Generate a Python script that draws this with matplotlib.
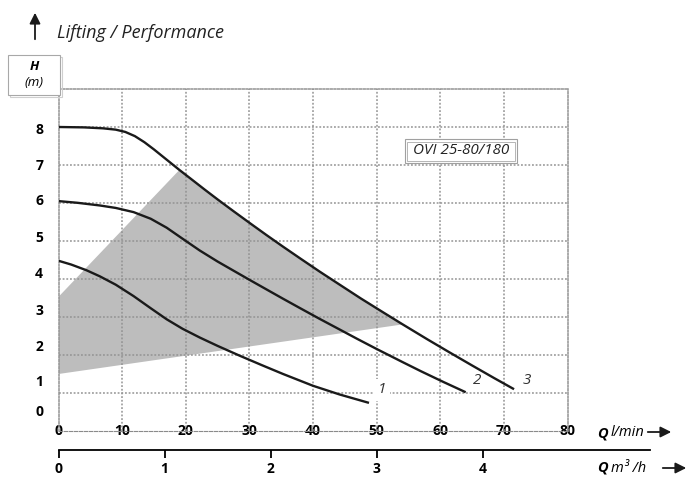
import matplotlib
matplotlib.use("Agg")
import matplotlib.pyplot as plt
from matplotlib.patches import Rectangle
import numpy as np

plt.rcParams['font.family'] = ['Open Sans', 'DejaVu Sans']

# pump curves, Q in l/min, H in grid units (one unit per grid row)
q1 = [0, 2, 4.4, 6.5, 9, 11.8, 14.5, 17, 19.5, 22.2, 25, 28.5, 32, 35.3, 40, 44.2, 48.8]
h1 = [4.48, 4.38, 4.23, 4.07, 3.85, 3.55, 3.23, 2.94, 2.69, 2.46, 2.24, 1.98, 1.73, 1.50, 1.19,
      0.96, 0.74]
q2 = [0, 3, 6.5, 9, 11.8, 14.5, 17, 19.5, 22.2, 25, 27.5, 30, 32.7, 35.3, 38, 41, 44.2, 47,
      50.1, 54, 57, 60.5, 64]
h2 = [6.05, 6.005, 5.935, 5.87, 5.76, 5.585, 5.35, 5.06, 4.75, 4.46, 4.22, 3.98, 3.725, 3.48,
      3.23, 2.955, 2.67, 2.42, 2.15, 1.82, 1.57, 1.29, 1.02]
q3 = [0, 4, 7, 9, 10.5, 12, 13.5, 15, 17, 19, 20.7, 23, 25, 27.5, 30, 32.7, 35.3, 38, 41, 44.2,
      47.5, 51, 54.1, 58, 61.5, 65, 68.5, 71.6]
h3 = [8.0, 7.99, 7.965, 7.93, 7.87, 7.76, 7.60, 7.41, 7.14, 6.87, 6.65, 6.35, 6.095, 5.785, 5.48,
      5.155, 4.85, 4.54, 4.20, 3.85, 3.49, 3.125, 2.805, 2.41, 2.065, 1.725, 1.39, 1.10]
curve_names = ["1", "2", "3"]

# shaded working area (left edge, apex on curve 3, right end on curve 3)
area_left = [1.5, 3.53]
area_apex_q = 19
area_end_q = 54.1

# axes ticks
q_ticks = [0, 10, 20, 30, 40, 50, 60, 70, 80]
m3h_ticks = [0, 1, 2, 3, 4]
h_labels = ["0", "1", "2", "3", "4", "5", "6", "7", "8"]
h_label_pos = [0.55, 1.32, 2.26, 3.21, 4.18, 5.11, 6.08, 7.0, 7.97]

W, Hh = 690, 478
def fx(px): return px / W
def fy(py): return 1 - py / Hh

fig = plt.figure(figsize=(6.9, 4.78), dpi=100)
ax = fig.add_axes([fx(58.5), fy(431), fx(567.5) - fx(58.5), fy(89) - fy(431)])
ax.set_xlim(0, 80)
ax.set_ylim(0, 9)

grid_col = "#939393"
dots = (0, (1.2, 1.2))

# shaded area
q3a = np.array(q3); h3a = np.array(h3)
sel = (q3a >= area_apex_q) & (q3a <= area_end_q)
poly_q = [0, 0] + list(q3a[sel]) + [0]
poly_h = area_left + list(h3a[sel]) + [area_left[0]]
ax.fill(poly_q, poly_h, color="#bdbdbd", lw=0, zorder=1)

# curves
for q, h in [(q1, h1), (q2, h2), (q3, h3)]:
    ax.plot(q, h, color="#1a1a1a", lw=1.7, solid_capstyle="butt",
            solid_joinstyle="round", zorder=5)

# curve labels
for name, (tx, ty) in zip(curve_names, [(50.8, 1.08), (65.8, 1.34), (73.6, 1.34)]):
    ax.text(tx, ty, name, fontsize=11, style="italic", color="#333333",
            ha="center", va="center", zorder=4,
            bbox=dict(boxstyle="square,pad=0.25", fc="white", ec="none"))

# grid
ax.set_xticks(q_ticks)
ax.set_xticklabels([str(v) for v in q_ticks])
ax.set_yticks(h_label_pos)
ax.set_yticklabels(h_labels)
ax.grid(False)
for v in q_ticks[1:-1]:
    ax.axvline(v, color=grid_col, lw=1.1, ls=dots, zorder=2)
for v in range(1, 9):
    ax.axhline(v, color=grid_col, lw=1.1, ls=dots, zorder=2)
for s in ["top", "right", "left"]:
    ax.spines[s].set_color(grid_col)
    ax.spines[s].set_linestyle(dots)
    ax.spines[s].set_linewidth(1.1)
ax.spines["bottom"].set_color("#8a8a8a")
ax.spines["bottom"].set_linestyle((0, (3, 1.5)))
ax.spines["bottom"].set_linewidth(0.8)

ax.tick_params(axis="both", which="both", length=0)
ax.tick_params(axis="y", pad=11, labelsize=10)
ax.tick_params(axis="x", pad=0, labelsize=10)
for t in ax.get_yticklabels():
    t.set_fontweight("bold")
for t in ax.get_xticklabels():
    t.set_fontweight("bold")
    t.set_va("center")
    t.set_bbox(dict(boxstyle="square,pad=0.1", fc="white", ec="none"))

# second flow axis in m3/h
q_end = (650 - 58.5) * 80 / 509
ax2 = fig.add_axes([fx(58.5), fy(450), fx(650) - fx(58.5), 0.0005])
ax2.set_xlim(0, q_end * 0.06)
ax2.set_ylim(0, 1)
ax2.patch.set_visible(False)
for s in ["top", "right", "left"]:
    ax2.spines[s].set_visible(False)
ax2.spines["bottom"].set_linewidth(1.3)
ax2.set_yticks([])
ax2.set_xticks(m3h_ticks)
ax2.set_xticklabels([str(v) for v in m3h_ticks], fontweight="bold", fontsize=10)
ax2.tick_params(axis="x", direction="out", length=5.5, width=1.3, pad=3)

# axis titles
fig.text(fx(597), fy(433), "Q", fontsize=10.5, fontweight="bold", style="italic", va="center")
fig.text(fx(611), fy(433), "l/min", fontsize=10.5, style="italic", va="center")
fig.text(fx(597), fy(468), "Q", fontsize=10.5, fontweight="bold", style="italic", va="center")
fig.text(fx(611), fy(468), "m\u00b3 /h", fontsize=10.5, style="italic", va="center")
arr = dict(arrowstyle="-|>", color="#1a1a1a", lw=1.3, mutation_scale=16)
fig.add_artist(plt.Annotation("", xy=(fx(674), fy(432)), xytext=(fx(645), fy(432)),
                              xycoords="figure fraction", arrowprops=arr))
fig.add_artist(plt.Annotation("", xy=(fx(689), fy(468)), xytext=(fx(660), fy(468)),
                              xycoords="figure fraction", arrowprops=arr))

# title with up arrow
fig.add_artist(plt.Annotation("", xy=(fx(35), fy(10)), xytext=(fx(35), fy(42)),
                              xycoords="figure fraction", arrowprops=arr))
fig.text(fx(57), fy(33), "Lifting / Performance", fontsize=13, style="italic",
         va="center", color="#222222")

# H (m) box
fig.add_artist(Rectangle((fx(10), fy(97)), fx(62) - fx(10), fy(57) - fy(97),
                         transform=fig.transFigure, fill=False, ec="#cfcfcf", lw=0.8))
fig.add_artist(Rectangle((fx(8), fy(95)), fx(60) - fx(8), fy(55) - fy(95),
                         transform=fig.transFigure, fc="white", ec="#a8a8a8", lw=0.8))
fig.text(fx(34), fy(66), "H", fontsize=9.5, fontweight="bold", style="italic", ha="center", va="center")
fig.text(fx(34), fy(83), "(m)", fontsize=9.5, style="italic", ha="center", va="center")

# model box
fig.add_artist(Rectangle((fx(405), fy(163)), fx(517) - fx(405), fy(139) - fy(163),
                         transform=fig.transFigure, fc="white", ec="#a0a0a0", lw=0.8, zorder=5))
fig.add_artist(Rectangle((fx(407.5), fy(160.5)), fx(514.5) - fx(407.5), fy(141.5) - fy(160.5),
                         transform=fig.transFigure, fill=False, ec="#b5b5b5", lw=0.7, zorder=5))
fig.text(fx(461), fy(151), "OVI 25-80/180", fontsize=11, style="italic", ha="center",
         va="center", color="#222222", zorder=6)

fig.savefig("out.png", dpi=100)
